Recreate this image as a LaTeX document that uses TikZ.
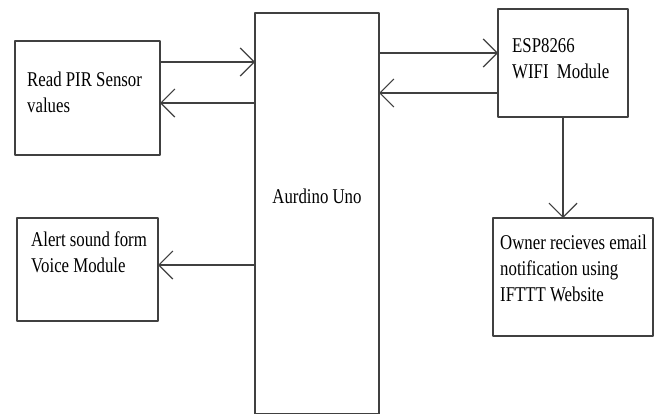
\documentclass[tikz,border=0pt]{standalone}
\usepackage{fontspec}
\setmainfont{Liberation Serif}[FakeStretch=0.8]
\usetikzlibrary{arrows.meta, positioning}
\definecolor{linecolor}{RGB}{64, 64, 64}

\begin{document}
\begin{tikzpicture}[x=1pt, y=-1pt, line cap=round, line join=round,
  box/.style={draw=linecolor, line width=1.2pt, rectangle, inner sep=0pt, outer sep=0pt, anchor=north west},
  txt/.style={anchor=north west, inner sep=0pt, align=left, font=\fontsize{21}{26}\selectfont},
  arr/.style={draw=linecolor, line width=1.2pt, -{Straight Barb[length=14pt, width=28pt]}}]

  \useasboundingbox (0,0) rectangle (655,413);

  % Blocks
  \node[box, minimum width=145pt, minimum height=114pt] (pir) at (15,41) {};
  \node[box, minimum width=124pt, minimum height=401pt] (ard) at (255,13) {};
  \node[box, minimum width=130pt, minimum height=108pt] (esp) at (498,9) {};
  \node[box, minimum width=141pt, minimum height=103pt] (alert) at (17,218) {};
  \node[box, minimum width=160pt, minimum height=118pt] (owner) at (493,218) {};

  % Block texts
  \node[txt] (pirtxt) at ([shift={(12pt,-30.7pt)}]pir.north west) {Read PIR Sensor\\values};
  \node[txt, anchor=center] (ardtxt) at ([yshift=17pt]ard.center) {Aurdino Uno};
  \node[txt] (esptxt) at ([shift={(14pt,-29.8pt)}]esp.north west) {ESP8266\\WIFI\ \ Module};
  \node[txt] (alerttxt) at ([shift={(14pt,-13.7pt)}]alert.north west) {Alert sound form\\Voice Module};
  \node[txt] (ownertxt) at ([shift={(7pt,-16.7pt)}]owner.north west) {Owner recieves email\\notification using\\IFTTT Website};

  % Connections
  \coordinate (pirin) at ([yshift=-21pt]pir.north east);
  \draw[arr] (pirin) -- (pirin -| ard.west);
  \coordinate (pirout) at ([yshift=-62pt]pir.north east);
  \draw[arr] (pirout -| ard.west) -- (pirout);

  \coordinate (espin) at ([yshift=-40pt]ard.north east);
  \draw[arr] (espin) -- (espin -| esp.west);
  \coordinate (espout) at ([yshift=-80pt]ard.north east);
  \draw[arr] (espout -| esp.west) -- (espout);

  \coordinate (alertin) at ([yshift=-47pt]alert.north east);
  \draw[arr] (alertin -| ard.west) -- (alertin);

  \draw[arr] (esp.south) -- (esp.south |- owner.north);

\end{tikzpicture}
\end{document}
